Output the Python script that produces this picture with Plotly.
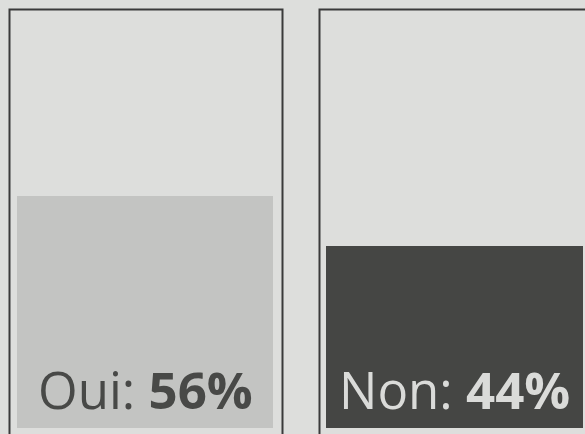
import plotly.graph_objects as go

# Data
categories = ["Oui", "Non"]
values = [56, 44]
labels = ["Oui: <b>56%</b>", "Non: <b>44%</b>"]

W, H = 585, 434
bg = "#dddedc"
bar_colors = ["#c3c4c2", "#454644"]
text_colors = ["#484947", "#dadbd9"]
line_color = "#3a3a3a"

# pixel layout helpers
def px_x(p):
    return p / W

def px_y(p):
    return (H - p) / H

domains = [(17, 273), (326, 583)]
y_bottom_px, y_top_px = 428, 14

fig = go.Figure()
for i, (cat, val) in enumerate(zip(categories, values)):
    ax = "" if i == 0 else str(i + 1)
    fig.add_trace(go.Bar(
        x=[cat], y=[val], width=[1.0],
        marker=dict(color=bar_colors[i], line=dict(width=0)),
        xaxis="x" + ax, yaxis="y" + ax,
        hoverinfo="skip", showlegend=False,
    ))
    fig.add_annotation(
        x=cat, y=0, xref="x" + ax, yref="y" + ax,
        text=labels[i], showarrow=False,
        xanchor="center", yanchor="bottom", yshift=2,
        font=dict(family="Open Sans", size=51, color=text_colors[i]),
    )

ydom = [px_y(y_bottom_px), px_y(y_top_px)]
for i, (d0, d1) in enumerate(domains):
    sfx = "" if i == 0 else str(i + 1)
    fig.update_layout(**{
        "xaxis" + sfx: dict(domain=[px_x(d0), px_x(d1)], range=[-0.5, 0.5],
                             visible=False, fixedrange=True),
        "yaxis" + sfx: dict(domain=ydom, range=[0, 100], visible=False,
                             fixedrange=True, anchor="x" + sfx),
    })
fig.update_layout(xaxis2=dict(anchor="y2"))

# box outlines
boxes = [(9.5, 282.5), (319.5, 700)]
for x0, x1 in boxes:
    fig.add_shape(type="rect", xref="paper", yref="paper",
                  x0=px_x(x0), x1=px_x(x1), y0=-0.2, y1=px_y(9.5),
                  line=dict(color=line_color, width=2), fillcolor="rgba(0,0,0,0)",
                  layer="above")

fig.update_layout(
    width=W, height=H,
    margin=dict(l=0, r=0, t=0, b=0),
    paper_bgcolor=bg, plot_bgcolor=bg,
    bargap=0,
)

fig.write_html("out.html")
